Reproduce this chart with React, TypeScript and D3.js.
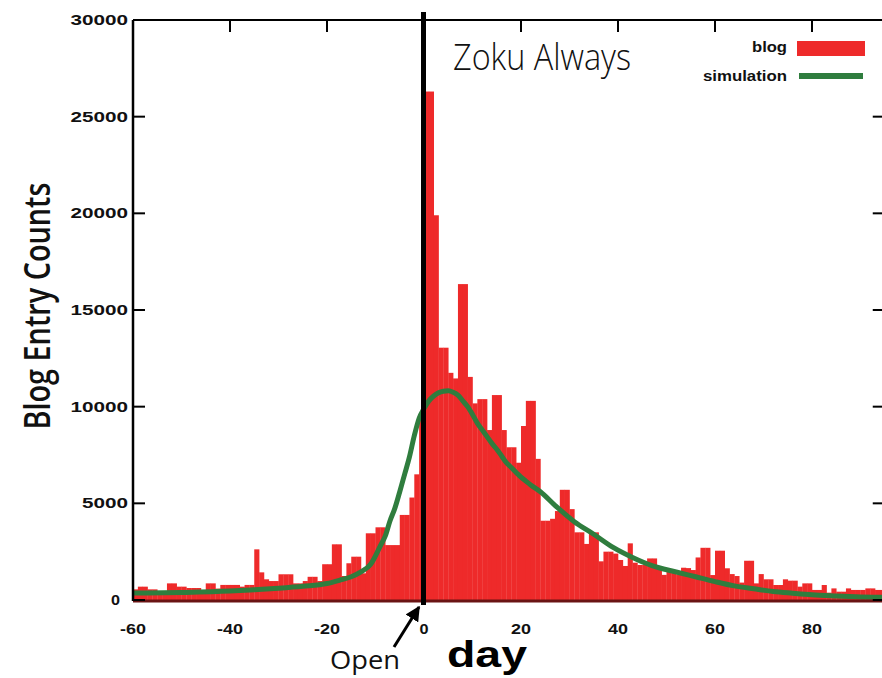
import React from "react";
import * as d3 from "d3";

// ---- data ----
const firstDay = -60;
// blog entry counts per day, day -60 .. 94
const blogCounts = [
  550, 690, 690, 550, 550, 380, 380, 860, 860, 690,
  690, 620, 620, 620, 500, 860, 860, 590, 780, 780,
  780, 780, 690, 780, 780, 2620, 1430, 1070, 980, 980,
  1330, 1330, 1330, 860, 860, 980, 1200, 1200, 980, 1850,
  1850, 2880, 2880, 1240, 1900, 2240, 2240, 1380, 3450, 3450,
  3760, 3760, 2840, 2840, 2840, 4400, 4400, 5300, 6500, 9600,
  26300, 26300, 19900, 13050, 13050, 11750, 11460, 16340, 16340, 11540,
  10170, 10390, 10390, 8790, 10600, 10600, 8790, 7900, 7900, 7100,
  9000, 10300, 10300, 7300, 4100, 4100, 4200, 4600, 5700, 5700,
  4700, 3500, 3500, 2900, 3500, 3500, 2000, 2500, 2500, 2400,
  2070, 1760, 2930, 1930, 1810, 1810, 2150, 2150, 1640, 1300,
  1450, 1400, 1300, 1670, 1650, 1550, 2200, 2700, 2700, 1290,
  2550, 2550, 1640, 1340, 1240, 900, 2030, 2030, 860, 1340,
  1070, 1070, 775, 775, 1070, 1000, 1000, 690, 860, 860,
  520, 520, 775, 380, 600, 430, 430, 600, 520, 520,
  520, 600, 600, 520, 520,
];

const simDays = [
  -60, -50, -40, -35, -30, -25, -20, -17, -15, -13, -11, -9, -8, -7, -6, -5, -4, -3, -2, -1,
  0, 1, 2, 3, 4, 5, 6, 7, 8, 9, 10, 11, 12, 13, 14, 15, 16, 17, 18, 19, 20, 21, 22, 24, 27,
  31, 35, 39, 43, 47, 52, 56, 60, 64, 68, 72, 76, 80, 85, 89, 95,
];
const simValues = [
  360, 390, 460, 530, 610, 710, 850, 1050, 1200, 1450, 1850, 2800, 3300, 4100, 4750, 5600, 6500, 7400, 8500, 9400,
  9900, 10300, 10550, 10720, 10800, 10820, 10750, 10600, 10300, 10000, 9600, 9150, 8800, 8450, 8100, 7800, 7450, 7100, 6850, 6600, 6350, 6150, 5950, 5600, 4900,
  4050, 3400, 2720, 2200, 1780, 1450, 1200, 950, 730, 580, 440, 350, 270, 210, 170, 140,
];

const xTicks = [-60, -40, -20, 0, 20, 40, 60, 80];
const yTicks = [0, 5000, 10000, 15000, 20000, 25000, 30000];
const legendLabels = ["blog", "simulation"];

const RED = "#ee2a2a";
const GREEN = "#2f7d3e";

export default function App() {
  const W = 882;
  const H = 678;
  const x = d3.scaleLinear().domain([-60, 95]).range([133, 884.75]);
  const y = d3.scaleLinear().domain([0, 30000]).range([600, 20]);

  const bars = blogCounts.map((v, i) => ({ day: firstDay + i, v }));
  const simPts = simDays.map((d, i) => [d, simValues[i]] as [number, number]);
  const line = d3
    .line<[number, number]>()
    .x((d) => x(d[0]))
    .y((d) => y(d[1]))
    .curve(d3.curveMonotoneX);

  const tickFont = "'Liberation Sans', Arial, sans-serif";
  const x0 = x.range()[0];
  const x1 = x.range()[1];
  const yTop = y.range()[1];
  const yBot = y.range()[0];

  return (
    <svg
      width={W}
      height={H}
      viewBox={`0 0 ${W} ${H}`}
      style={{ position: "absolute", left: 0, top: 0, background: "#fff" }}
    >
      <defs>
        <clipPath id="plotclip">
          <rect x={x0} y={yTop} width={x1 - x0} height={yBot - yTop} />
        </clipPath>
        <marker id="arrowhead" viewBox="0 0 10 10" refX="9" refY="5" markerWidth="5" markerHeight="5" orient="auto">
          <path d="M0,0 L10,5 L0,10 z" fill="#000" />
        </marker>
      </defs>
      <rect x={0} y={0} width={W} height={H} fill="#fff" />

      {/* bars */}
      <g clipPath="url(#plotclip)">
        {bars.map((b) => (
          <rect
            key={b.day}
            x={x(b.day)}
            y={y(b.v)}
            width={x(b.day + 1) - x(b.day) + 0.3}
            height={yBot - y(b.v)}
            fill={RED}
          />
        ))}
        <path d={line(simPts) || ""} fill="none" stroke={GREEN} strokeWidth={5} strokeLinejoin="round" />
      </g>

      {/* frame */}
      <line x1={x0} y1={yTop} x2={x1} y2={yTop} stroke="#000" strokeWidth={2} />
      <line x1={x0} y1={yTop} x2={x0} y2={yBot + 1} stroke="#000" strokeWidth={2.5} />
      <line x1={x1} y1={yTop} x2={x1} y2={yBot} stroke="#000" strokeWidth={2} />
      <line x1={x0} y1={yBot + 1} x2={x1} y2={yBot + 1} stroke="#6a1414" strokeWidth={3} />

      {/* ticks */}
      {yTicks.map((t) => (
        <g key={"yt" + t}>
          <line x1={x0} y1={y(t)} x2={x0 + 12} y2={y(t)} stroke="#000" strokeWidth={2} />
          <line x1={x1 - 12} y1={y(t)} x2={x1} y2={y(t)} stroke="#000" strokeWidth={2} />
          <text
            x={t === 0 ? 120 : 128}
            y={y(t) + 5}
            textAnchor="end"
            fontFamily={tickFont}
            fontWeight="bold"
            fontSize={14}
            textLength={t === 0 ? 9 : String(t).length * 11.5}
            lengthAdjust="spacingAndGlyphs"
            fill="#111"
          >
            {t}
          </text>
        </g>
      ))}
      {xTicks.map((t) => (
        <g key={"xt" + t}>
          <line x1={x(t)} y1={yTop} x2={x(t)} y2={yTop + 12} stroke="#000" strokeWidth={2} />
          <text
            x={x(t)}
            y={634}
            textAnchor="middle"
            fontFamily={tickFont}
            fontWeight="bold"
            fontSize={15}
            textLength={t === 0 ? 9 : t < 0 ? 26 : 20}
            lengthAdjust="spacingAndGlyphs"
            fill="#111"
          >
            {t}
          </text>
        </g>
      ))}

      {/* open day vertical line */}
      <line x1={x(0) - 0.5} y1={12} x2={x(0) - 0.5} y2={605} stroke="#000" strokeWidth={5} />

      {/* legend */}
      <text x={787} y={52} textAnchor="end" fontFamily={tickFont} fontWeight="bold" fontSize={14}
        textLength={35} lengthAdjust="spacingAndGlyphs" fill="#111">{legendLabels[0]}</text>
      <rect x={797} y={41} width={68} height={15} fill={RED} />
      <text x={787} y={81} textAnchor="end" fontFamily={tickFont} fontWeight="bold" fontSize={14}
        textLength={84} lengthAdjust="spacingAndGlyphs" fill="#111">{legendLabels[1]}</text>
      <line x1={799} y1={76} x2={863} y2={76} stroke={GREEN} strokeWidth={6} />

      {/* title */}
      <text x={453} y={70} fontFamily="'Open Sans', sans-serif" fontSize={36} fontWeight={300}
        textLength={178} lengthAdjust="spacingAndGlyphs" fill="#111">Zoku Always</text>

      {/* axis titles */}
      <text transform="translate(50,306) rotate(-90)" textAnchor="middle" fontFamily="'Open Sans', sans-serif"
        fontSize={36} fontWeight={600} textLength={247} lengthAdjust="spacingAndGlyphs" fill="#111">
        Blog Entry Counts
      </text>
      <text x={447} y={667} fontFamily={tickFont} fontWeight="bold" fontSize={37}
        textLength={80} lengthAdjust="spacingAndGlyphs" fill="#000">day</text>

      {/* Open annotation */}
      <line x1={394} y1={647} x2={419} y2={607} stroke="#000" strokeWidth={3} markerEnd="url(#arrowhead)" />
      <text x={330} y={669} fontFamily="'Open Sans', sans-serif" fontSize={26}
        textLength={70} lengthAdjust="spacingAndGlyphs" fill="#111">Open</text>
    </svg>
  );
}
